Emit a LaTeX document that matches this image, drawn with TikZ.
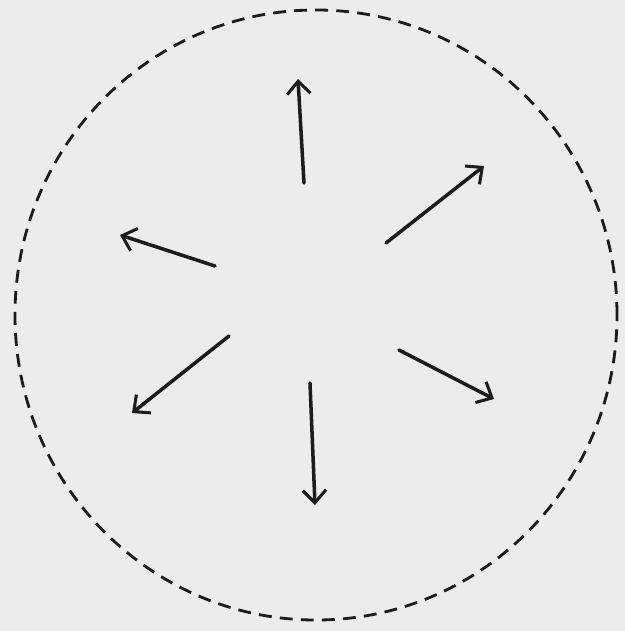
\documentclass[tikz,border=0pt]{standalone}
\usepackage{xcolor}
\usepackage{tikz}
\usetikzlibrary{arrows.meta}
\definecolor{paper}{RGB}{236,236,236}
\definecolor{ink}{RGB}{28,28,28}

\begin{document}
\begin{tikzpicture}[x=0.03cm, y=-0.03cm,
  ray/.style={ink, line width=3pt, line cap=round, -{Straight Barb[length=3.8mm, width=7mm, line width=2.6pt]}},
  rim/.style={ink, line width=2.4pt, dash pattern=on 11pt off 7pt}]
  \fill[paper] (0,0) rectangle (625,631);
  \coordinate (c) at (316,315);
  \draw[rim] (c) ellipse [x radius=9.03cm, y radius=9.15cm];
  % tails and heads of the six rays
  \coordinate (t1) at (304,183); \coordinate (h1) at (298,79);
  \coordinate (t2) at (386,243); \coordinate (h2) at (484,166);
  \coordinate (t3) at (215,266); \coordinate (h3) at (120,235);
  \coordinate (t4) at (229,336); \coordinate (h4) at (132,413);
  \coordinate (t5) at (310,383); \coordinate (h5) at (315,505);
  \coordinate (t6) at (399,350); \coordinate (h6) at (494,399);
  \foreach \i in {1,...,6} \draw[ray] (t\i) -- (h\i);
\end{tikzpicture}
\end{document}
